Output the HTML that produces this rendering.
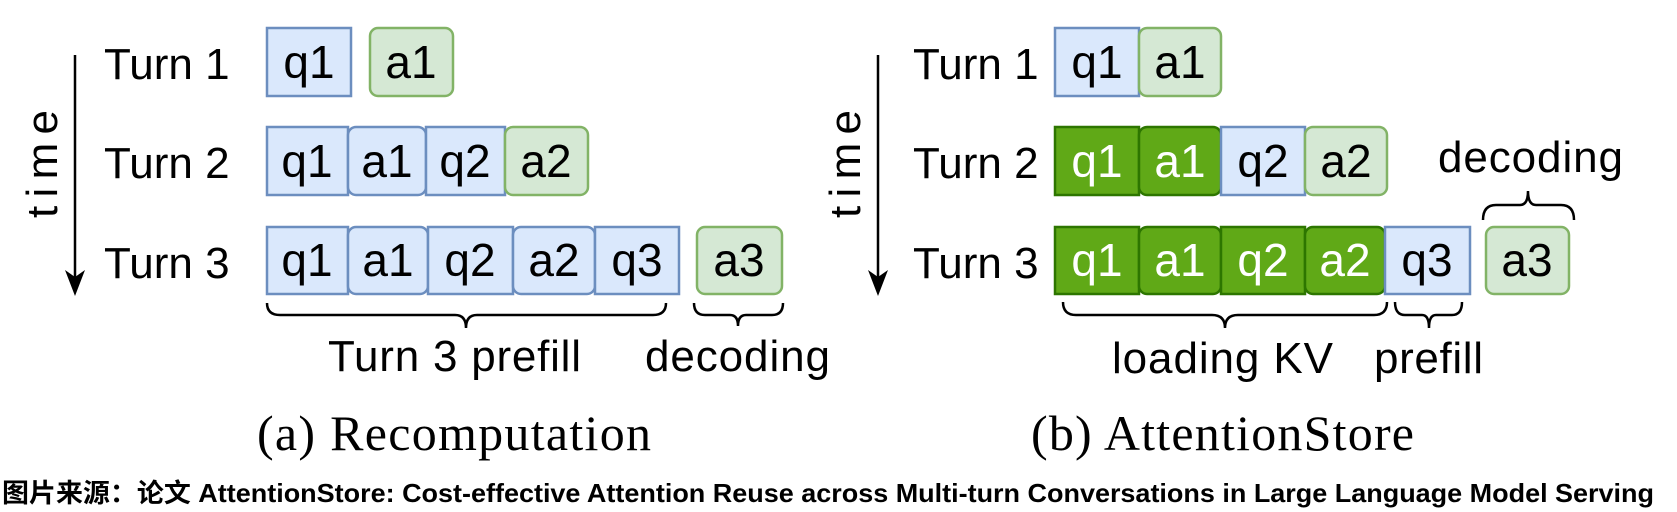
<!DOCTYPE html>
<html><head><meta charset="utf-8"><style>html,body{margin:0;padding:0;background:#fff}svg{display:block}</style></head>
<body>
<svg width="1677" height="512" viewBox="0 0 1677 512" xmlns="http://www.w3.org/2000/svg" font-family="'Liberation Sans', sans-serif">
<defs>
<marker id="ah" markerWidth="10" markerHeight="14" refX="5" refY="12" orient="auto-start-reverse" markerUnits="userSpaceOnUse" viewBox="0 0 10 14"></marker>
</defs>
<g stroke-width="2.5">
<!-- Left panel -->
<rect x="267" y="28" width="84" height="68" fill="#dae8fc" stroke="#6c8ebf"/>
<rect x="370" y="28" width="83" height="68" rx="8" fill="#d5e8d4" stroke="#82b366"/>
<rect x="267" y="127" width="81" height="68" fill="#dae8fc" stroke="#6c8ebf"/>
<rect x="348" y="127" width="78" height="68" rx="8" fill="#dae8fc" stroke="#6c8ebf"/>
<rect x="426" y="127" width="79" height="68" fill="#dae8fc" stroke="#6c8ebf"/>
<rect x="505" y="127" width="83" height="68" rx="8" fill="#d5e8d4" stroke="#82b366"/>
<rect x="267" y="227" width="81" height="67" fill="#dae8fc" stroke="#6c8ebf"/>
<rect x="348" y="227" width="80" height="67" rx="8" fill="#dae8fc" stroke="#6c8ebf"/>
<rect x="428" y="227" width="85" height="67" fill="#dae8fc" stroke="#6c8ebf"/>
<rect x="513" y="227" width="82" height="67" rx="8" fill="#dae8fc" stroke="#6c8ebf"/>
<rect x="595" y="227" width="84" height="67" fill="#dae8fc" stroke="#6c8ebf"/>
<rect x="697" y="227" width="85" height="67" rx="8" fill="#d5e8d4" stroke="#82b366"/>
<!-- Right panel -->
<rect x="1055" y="28" width="84" height="68" fill="#dae8fc" stroke="#6c8ebf"/>
<rect x="1139" y="28" width="82" height="68" rx="8" fill="#d5e8d4" stroke="#82b366"/>
<rect x="1055" y="127" width="84" height="68" fill="#60a917" stroke="#2d7600"/>
<rect x="1139" y="127" width="82" height="68" rx="8" fill="#60a917" stroke="#2d7600"/>
<rect x="1221" y="127" width="84" height="68" fill="#dae8fc" stroke="#6c8ebf"/>
<rect x="1305" y="127" width="82" height="68" rx="8" fill="#d5e8d4" stroke="#82b366"/>
<rect x="1055" y="227" width="84" height="67" fill="#60a917" stroke="#2d7600"/>
<rect x="1139" y="227" width="82" height="67" rx="8" fill="#60a917" stroke="#2d7600"/>
<rect x="1221" y="227" width="84" height="67" fill="#60a917" stroke="#2d7600"/>
<rect x="1305" y="227" width="80" height="67" rx="8" fill="#60a917" stroke="#2d7600"/>
<rect x="1385" y="227" width="85" height="67" fill="#dae8fc" stroke="#6c8ebf"/>
<rect x="1486" y="227" width="83" height="67" rx="8" fill="#d5e8d4" stroke="#82b366"/>
</g>
<g font-size="46" text-anchor="middle" fill="#000">
<text x="309" y="78">q1</text><text x="411" y="78">a1</text>
<text x="307" y="177">q1</text><text x="387" y="177">a1</text><text x="465" y="177">q2</text><text x="546" y="177">a2</text>
<text x="307" y="276">q1</text><text x="388" y="276">a1</text><text x="470" y="276">q2</text><text x="554" y="276">a2</text><text x="637" y="276">q3</text><text x="739" y="276">a3</text>
<text x="1097" y="78">q1</text><text x="1180" y="78">a1</text>
<text x="1097" y="177" fill="#fff">q1</text><text x="1180" y="177" fill="#fff">a1</text><text x="1263" y="177">q2</text><text x="1346" y="177">a2</text>
<text x="1097" y="276" fill="#fff">q1</text><text x="1180" y="276" fill="#fff">a1</text><text x="1263" y="276" fill="#fff">q2</text><text x="1345" y="276" fill="#fff">a2</text><text x="1427" y="276">q3</text><text x="1527" y="276">a3</text>
</g>
<g font-size="44" fill="#000">
<text x="104" y="79">Turn 1</text><text x="104" y="178">Turn 2</text><text x="104" y="278">Turn 3</text>
<text x="913" y="79">Turn 1</text><text x="913" y="178">Turn 2</text><text x="913" y="278">Turn 3</text>
<text x="328" y="371" textLength="253">Turn 3 prefill</text>
<text x="645" y="371" textLength="185">decoding</text>
<text x="1112" y="373" textLength="221">loading KV</text>
<text x="1374" y="373" textLength="109">prefill</text>
<text x="1438" y="172" textLength="185">decoding</text>
<text transform="translate(57,218) rotate(-90)" textLength="108">time</text>
<text transform="translate(860,218) rotate(-90)" textLength="108">time</text>
</g>
<g stroke="#000" stroke-width="2.5" fill="none">
<line x1="75" y1="55" x2="75" y2="280"/>
<line x1="878" y1="55" x2="878" y2="280"/>
<path d="M267 303 Q267 315 280 315 L455 315 Q466 315 466 328 Q466 315 477 315 L653 315 Q666 315 666 303"/>
<path d="M694 303 Q694 315 705 315 L730 315 Q738 315 738 326 Q738 315 746 315 L772 315 Q783 315 783 303"/>
<path d="M1063 302 Q1063 315 1076 315 L1212 315 Q1225 315 1225 328 Q1225 315 1238 315 L1374 315 Q1387 315 1387 302"/>
<path d="M1395 302 Q1395 315 1405 315 L1422 315 Q1429 315 1429 328 Q1429 315 1436 315 L1452 315 Q1462 315 1462 302"/>
<path d="M1483 220 Q1483 205 1496 205 L1520 205 Q1528 205 1528 191 Q1528 205 1536 205 L1561 205 Q1574 205 1574 220"/>
</g>
<path d="M65 270 L75 296 L85 270 L75 277 Z" fill="#000"/>
<path d="M868 270 L878 296 L888 270 L878 277 Z" fill="#000"/>
<g font-family="'Liberation Serif', serif" font-size="50" fill="#000">
<text x="257" y="450" textLength="394">(a) Recomputation</text>
<text x="1031" y="450" textLength="383">(b) AttentionStore</text>
</g>
<text x="2" y="502" font-size="26" font-weight="bold" font-family="'Liberation Sans','Noto Sans CJK SC',sans-serif" textLength="1652" lengthAdjust="spacingAndGlyphs">图片来源：论文 AttentionStore: Cost-effective Attention Reuse across Multi-turn Conversations in Large Language Model Serving</text>
</svg>
</body></html>
